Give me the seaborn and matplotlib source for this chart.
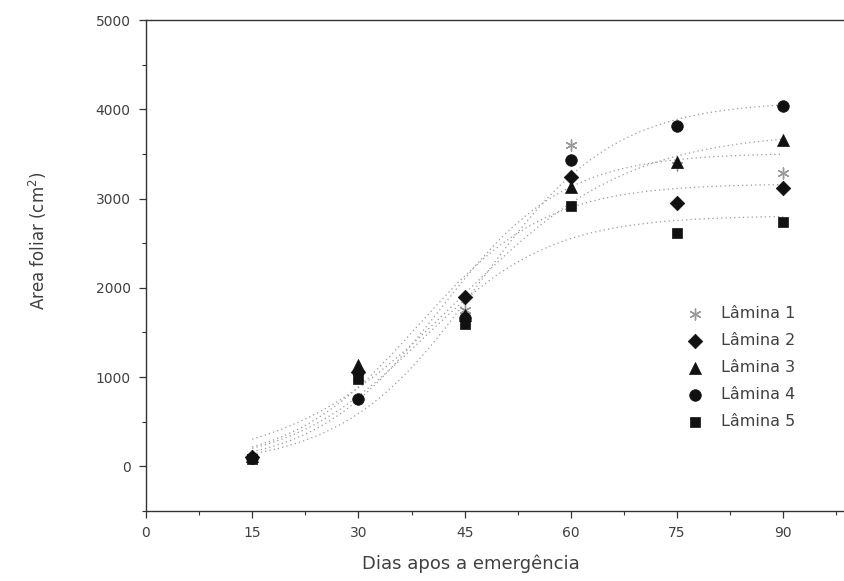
import numpy as np
import pandas as pd
import matplotlib
matplotlib.use("Agg")
import matplotlib.pyplot as plt
import seaborn as sns
from matplotlib.ticker import MultipleLocator

# Leaf area per leaf position (cm²) by days after emergence
days = [15, 30, 45, 60, 75, 90]
lamina1 = [110, 1000, 1750, 3600, 3380, 3290]
lamina2 = [100, 1060, 1900, 3240, 2950, 3120]
lamina3 = [120, 1130, 1700, 3130, 3410, 3660]
lamina4 = [90, 760, 1660, 3430, 3810, 4040]
lamina5 = [80, 980, 1590, 2920, 2610, 2740]
labels = ["Lâmina 1", "Lâmina 2", "Lâmina 3", "Lâmina 4", "Lâmina 5"]
x_ticks = [0, 15, 30, 45, 60, 75, 90]
y_ticks = [0, 1000, 2000, 3000, 4000, 5000]

series = [lamina1, lamina2, lamina3, lamina4, lamina5]
df = pd.DataFrame({
    "dias": np.tile(days, len(series)),
    "area": np.concatenate(series),
    "lamina": np.repeat(labels, len(days)),
})


def logistic(x, k, r, x0):
    return k / (1.0 + np.exp(-r * (x - x0)))


def fit_logistic(x, y):
    """Least-squares logistic fit by grid search over rate and midpoint."""
    x = np.asarray(x, float)
    y = np.asarray(y, float)
    best = None
    for r in np.linspace(0.03, 0.40, 120):
        for x0 in np.linspace(25, 60, 141):
            f = 1.0 / (1.0 + np.exp(-r * (x - x0)))
            k = f @ y / (f @ f)
            sse = np.sum((y - k * f) ** 2)
            if best is None or sse < best[0]:
                best = (sse, k, r, x0)
    return best[1:]


sns.set_theme(style="white")
plt.rcParams["font.family"] = ["DejaVu Sans"]
text_c = "#404040"

fig = plt.figure(figsize=(8.44, 5.81), dpi=100)
# axes run slightly past the right edge of the canvas
ax = fig.add_axes([146 / 844, 1 - 511 / 581, 708 / 844, 491 / 581])

# fitted growth curves
xs = np.linspace(15, 90, 300)
for lab, vals in zip(labels, series):
    k, r, x0 = fit_logistic(days, vals)
    sns.lineplot(x=xs, y=logistic(xs, k, r, x0), ax=ax, color="#9a9a9a",
                 lw=0.9, linestyle=(0, (1, 2.5)), legend=False)

markers = {"Lâmina 1": (6, 2, 0), "Lâmina 2": "D", "Lâmina 3": "^",
           "Lâmina 4": "o", "Lâmina 5": "s"}
sizes = {"Lâmina 1": 65, "Lâmina 2": 55, "Lâmina 3": 75,
         "Lâmina 4": 70, "Lâmina 5": 55}
for lab in labels:
    sub = df[df["lamina"] == lab]
    if lab == "Lâmina 1":
        sns.scatterplot(data=sub, x="dias", y="area", ax=ax, marker=markers[lab],
                        s=sizes[lab], color="#9a9a9a", linewidth=1.0, label=lab,
                        zorder=3)
    else:
        sns.scatterplot(data=sub, x="dias", y="area", ax=ax, marker=markers[lab],
                        s=sizes[lab], color="#111111", edgecolor="#111111",
                        linewidth=0.5, label=lab, zorder=3)

ax.set_xlim(0, 100)
ax.set_ylim(-500, 5000)
ax.set_xticks(x_ticks)
ax.set_yticks(y_ticks)
ax.xaxis.set_minor_locator(MultipleLocator(7.5))
ax.yaxis.set_minor_locator(MultipleLocator(500))
ax.tick_params(which="major", direction="out", length=5, width=0.9,
               color="#333333", labelsize=10, labelcolor=text_c, pad=6,
               bottom=True, left=True)
ax.tick_params(which="minor", direction="out", length=3, width=0.8,
               color="#333333", bottom=True, left=True)
for side in ["left", "bottom", "top", "right"]:
    ax.spines[side].set_color("#333333")
    ax.spines[side].set_linewidth(1.0)

ax.set_xlabel("Dias apos a emergência", fontsize=13, color=text_c)
ax.set_ylabel("Area foliar (cm$^2$)", fontsize=12, color=text_c)
ax.xaxis.set_label_coords(0.459, -0.088)
ax.yaxis.set_label_coords(-0.137, 0.55)

leg = ax.legend(loc="upper left", bbox_to_anchor=(673 / 844, 1 - 300 / 581),
                bbox_transform=fig.transFigure, frameon=False, fontsize=11.5,
                labelspacing=0.75, handletextpad=0.6, borderaxespad=0)
for t in leg.get_texts():
    t.set_color(text_c)

fig.savefig("out.png", dpi=100)
